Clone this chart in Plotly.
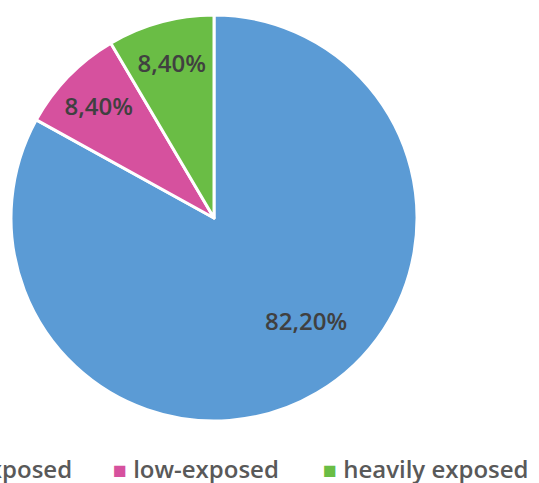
import plotly.graph_objects as go

categories = ["non-exposed", "low-exposed", "heavily exposed"]
values = [82.2, 8.4, 8.4]
colors = ["#5B9BD5", "#D6519E", "#6ABD45"]
labels_text = [f"{v:.2f}".replace(".", ",") + "%" for v in values]

# the large slice's label sits further out toward the lower right in the reference:
# pad it (left padding + blank first line) so the library's centred placement lands there
NB = "\u00a0"
slice_text = [NB + "<br>" + NB * 13 + labels_text[0]] + labels_text[1:]

# legend entry anchors (paper fraction) — first entry runs off the left edge as in the reference
legend_x = [74 / 539, 111 / 539, 321 / 539]
legend_anchor = ["right", "left", "left"]

fig = go.Figure(
    go.Pie(
        labels=categories,
        values=values,
        text=slice_text,
        textinfo="text",
        textposition="inside",
        insidetextorientation="horizontal",
        sort=False,
        direction="clockwise",
        rotation=0,
        marker=dict(colors=colors, line=dict(color="white", width=3)),
        textfont=dict(family="Open Sans", size=24, color="#404040", weight=600),
        domain=dict(x=[0.0204, 0.7737], y=[0.1284, 0.969]),
        hoverinfo="label+percent",
        hovertext=labels_text,
        showlegend=False,
    )
)

for cat, col, lx, anc in zip(categories, colors, legend_x, legend_anchor):
    fig.add_annotation(
        x=lx,
        y=0.031,
        xref="paper",
        yref="paper",
        xanchor=anc,
        yanchor="middle",
        showarrow=False,
        text=f"<span style='color:{col};font-size:23px'>■</span>&nbsp;{cat}",
        font=dict(family="Open Sans", size=24, color="#595959", weight=600),
    )

fig.update_layout(
    width=539,
    height=483,
    margin=dict(l=0, r=0, t=0, b=0, autoexpand=False),
    paper_bgcolor="white",
    plot_bgcolor="white",
    showlegend=False,
)

fig.write_html("out.html")
